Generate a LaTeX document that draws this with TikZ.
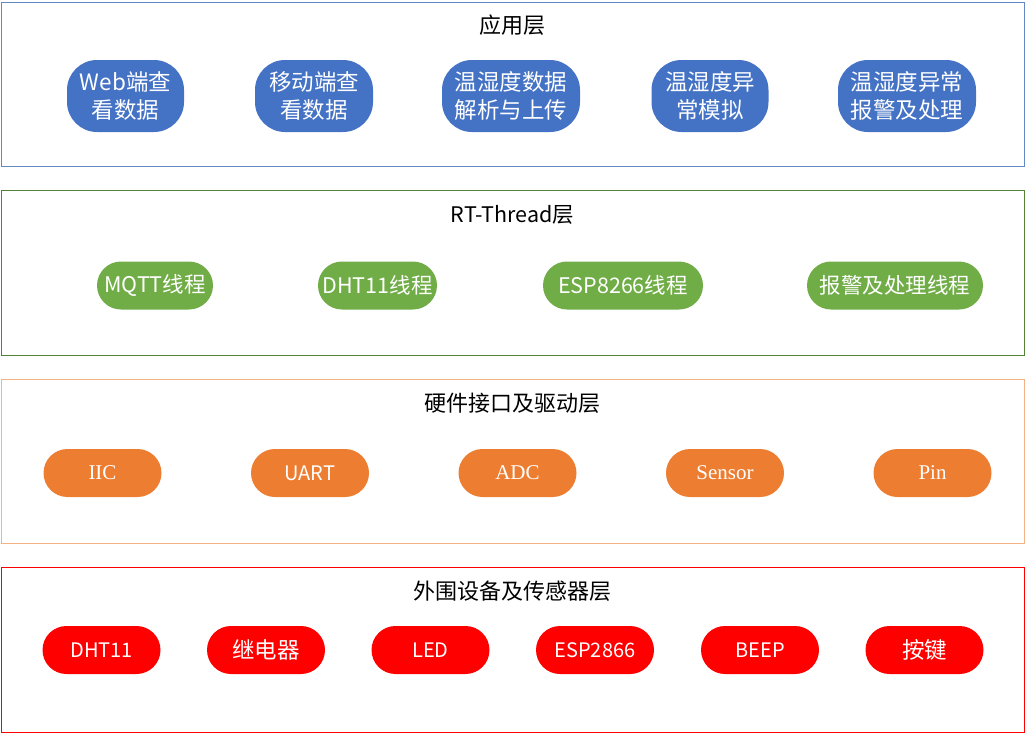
\documentclass[tikz,border=0pt]{standalone}
\usepackage{fontspec}
\setmainfont{Noto Sans CJK SC}
\newfontfamily\serifen{Liberation Serif}
\definecolor{appblue}{RGB}{68,114,196}
\definecolor{appline}{RGB}{100,136,196}
\definecolor{rtgreen}{RGB}{112,173,71}
\definecolor{rtline}{RGB}{84,130,53}
\definecolor{hworange}{RGB}{237,125,49}
\definecolor{hwline}{RGB}{244,177,131}
\definecolor{devred}{RGB}{255,0,0}

\begin{document}
\begin{tikzpicture}[x=1pt,y=-1pt,
  layer/.style={draw=#1,line width=0.9pt},
  title/.style={font=\fontsize{22}{26}\selectfont,text=black},
  pill/.style={fill=#1,text=white,rounded corners=24pt,minimum height=48pt,
    minimum width=118pt,inner sep=0pt,font=\fontsize{20}{24}\selectfont},
  cjkpill/.style={font=\fontsize{22.5}{26}\selectfont},
  thpill/.style={pill=rtgreen,font=\fontsize{21.5}{26}\selectfont},
  twopill/.style={fill=appblue,text=white,rounded corners=30pt,minimum height=72pt,
    inner sep=0pt,align=center,font=\fontsize{22.5}{28}\selectfont}]

\useasboundingbox (0,0) rectangle (1026,734);

% layer frames
\draw[layer=appline] (1.5,2) rectangle (1024,166.5);
\draw[layer=rtline] (1.5,190.5) rectangle (1024,355);
\draw[layer=hwline] (1.5,379) rectangle (1024,543.5);
\draw[layer=devred] (1.5,567.5) rectangle (1024,732);

\node[title] (apptitle) at (512.5,25) {应用层};
\node[title,font=\fontsize{21.5}{26}\selectfont] (rttitle) at (512.5,215) {RT-Thread层};
\node[title] (hwtitle) at (512.5,403) {硬件接口及驱动层};
\node[title] (devtitle) at (512.5,591) {外围设备及传感器层};

% application layer
\node[twopill,minimum width=117pt] (webview) at (125.5,96) {Web端查\\看数据};
\node[twopill,minimum width=118pt] (mobview) at (314,96) {移动端查\\看数据};
\node[twopill,minimum width=138pt] (upload) at (511,96) {温湿度数据\\解析与上传};
\node[twopill,minimum width=117pt] (simulate) at (710,96) {温湿度异\\常模拟};
\node[twopill,minimum width=138pt] (alarm) at (907,96) {温湿度异常\\报警及处理};

% RT-Thread layer
\node[thpill,minimum width=116pt] (mqtt) at (155,285.5) {MQTT线程};
\node[thpill,minimum width=119pt] (dht) at (377.5,285.5) {DHT11线程};
\node[thpill,minimum width=160pt] (esp) at (623,285.5) {ESP8266线程};
\node[thpill,minimum width=176pt] (alarmth) at (895,285.5) {报警及处理线程};

% driver layer
\node[pill=hworange,font=\fontsize{21}{24}\serifen] (iic) at (102.5,473) {IIC};
\node[pill=hworange] (uart) at (310,473) {UART};
\node[pill=hworange,font=\fontsize{21}{24}\serifen] (adc) at (517.5,473) {ADC};
\node[pill=hworange,font=\fontsize{21}{24}\serifen] (sensor) at (725,473) {Sensor};
\node[pill=hworange,font=\fontsize{21}{24}\serifen] (pin) at (932.5,473) {Pin};

% device layer
\node[pill=devred] (dhtdev) at (101.5,650) {DHT11};
\node[pill=devred,cjkpill] (relay) at (266,650) {继电器};
\node[pill=devred] (led) at (430.5,650) {LED};
\node[pill=devred] (espdev) at (595,650) {ESP2866};
\node[pill=devred] (beep) at (760,650) {BEEP};
\node[pill=devred,cjkpill] (key) at (924.5,650) {按键};

\end{tikzpicture}
\end{document}
